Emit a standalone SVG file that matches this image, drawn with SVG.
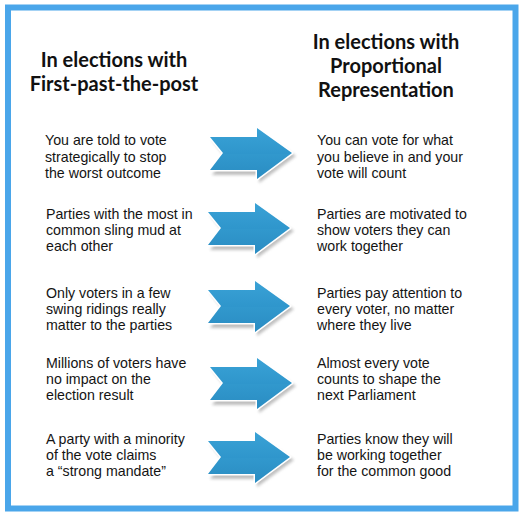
<svg xmlns="http://www.w3.org/2000/svg" width="525" height="516" viewBox="0 0 525 516">
<defs>
<style>
.hd{font-family:Lato,"Open Sans","Liberation Sans",sans-serif;font-weight:bold;font-size:20px;fill:#111;text-anchor:middle}
.tx{font-family:"Liberation Sans",Arial,sans-serif;font-size:14.2px;fill:#141414}
</style>
<linearGradient id="ag" x1="0" y1="0" x2="0" y2="1">
<stop offset="0" stop-color="#3aa2d6"/>
<stop offset="0.5" stop-color="#2f96cc"/>
<stop offset="0.52" stop-color="#3198cd"/>
<stop offset="1" stop-color="#2a8cc2"/>
</linearGradient>
<filter id="sh" x="-20%" y="-20%" width="140%" height="160%">
<feGaussianBlur stdDeviation="1.5"/>
</filter>
<g id="arrow">
<path d="M2,-13 L49,-13 L49,-21 L86,3 L49,30 L49,22 L2,22 L15,4 Z" fill="#8a8a8a" opacity="0.55" filter="url(#sh)"/>
<path d="M0,-16 L47,-16 L47,-25 L82,0 L47,26 L47,17 L0,17 L13,0 Z" fill="#fff" stroke="#fff" stroke-width="3" stroke-linejoin="round"/>
<path d="M0,-16 L47,-16 L47,-25 L82,0 L47,26 L47,17 L0,17 L13,0 Z" fill="url(#ag)"/>
</g>
</defs>
<rect width="525" height="516" fill="#fff"/>
<rect id="frame" x="8" y="7.5" width="507.5" height="501" fill="#fff" stroke="#4aa6ea" stroke-width="6"/>
<g id="header-left">
<text class="hd" x="114" y="67">In elections with</text>
<text class="hd" x="114" y="91">First-past-the-post</text>
</g>
<g id="header-right">
<text class="hd" x="386" y="49">In elections with</text>
<text class="hd" x="386" y="73">Proportional</text>
<text class="hd" x="386" y="97">Representation</text>
</g>
<g id="fptp-1"><text class="tx" x="45" y="145">You are told to vote</text><text class="tx" x="45" y="162">strategically to stop</text><text class="tx" x="45" y="178">the worst outcome</text></g>
<g id="fptp-2"><text class="tx" x="46" y="219">Parties with the most in</text><text class="tx" x="46" y="235">common sling mud at</text><text class="tx" x="46" y="251">each other</text></g>
<g id="fptp-3"><text class="tx" x="46" y="298">Only voters in a few</text><text class="tx" x="46" y="314">swing ridings really</text><text class="tx" x="46" y="330">matter to the parties</text></g>
<g id="fptp-4"><text class="tx" x="46" y="368">Millions of voters have</text><text class="tx" x="46" y="384">no impact on the</text><text class="tx" x="46" y="400">election result</text></g>
<g id="fptp-5"><text class="tx" x="46" y="444">A party with a minority</text><text class="tx" x="46" y="460">of the vote claims</text><text class="tx" x="46" y="476">a “strong mandate”</text></g>
<g id="pr-1"><text class="tx" x="317" y="145">You can vote for what</text><text class="tx" x="317" y="162">you believe in and your</text><text class="tx" x="317" y="178">vote will count</text></g>
<g id="pr-2"><text class="tx" x="317" y="219">Parties are motivated to</text><text class="tx" x="317" y="235">show voters they can</text><text class="tx" x="317" y="251">work together</text></g>
<g id="pr-3"><text class="tx" x="317" y="298">Parties pay attention to</text><text class="tx" x="317" y="314">every voter, no matter</text><text class="tx" x="317" y="330">where they live</text></g>
<g id="pr-4"><text class="tx" x="317" y="368">Almost every vote</text><text class="tx" x="317" y="384">counts to shape the</text><text class="tx" x="317" y="400">next Parliament</text></g>
<g id="pr-5"><text class="tx" x="317" y="444">Parties know they will</text><text class="tx" x="317" y="460">be working together</text><text class="tx" x="317" y="476">for the common good</text></g>
<g id="connectors">
<use href="#arrow" transform="translate(210,153)"/>
<use href="#arrow" transform="translate(208,228)"/>
<use href="#arrow" transform="translate(208,306)"/>
<use href="#arrow" transform="translate(210,383)"/>
<use href="#arrow" transform="translate(208,457)"/>
</g>
</svg>
